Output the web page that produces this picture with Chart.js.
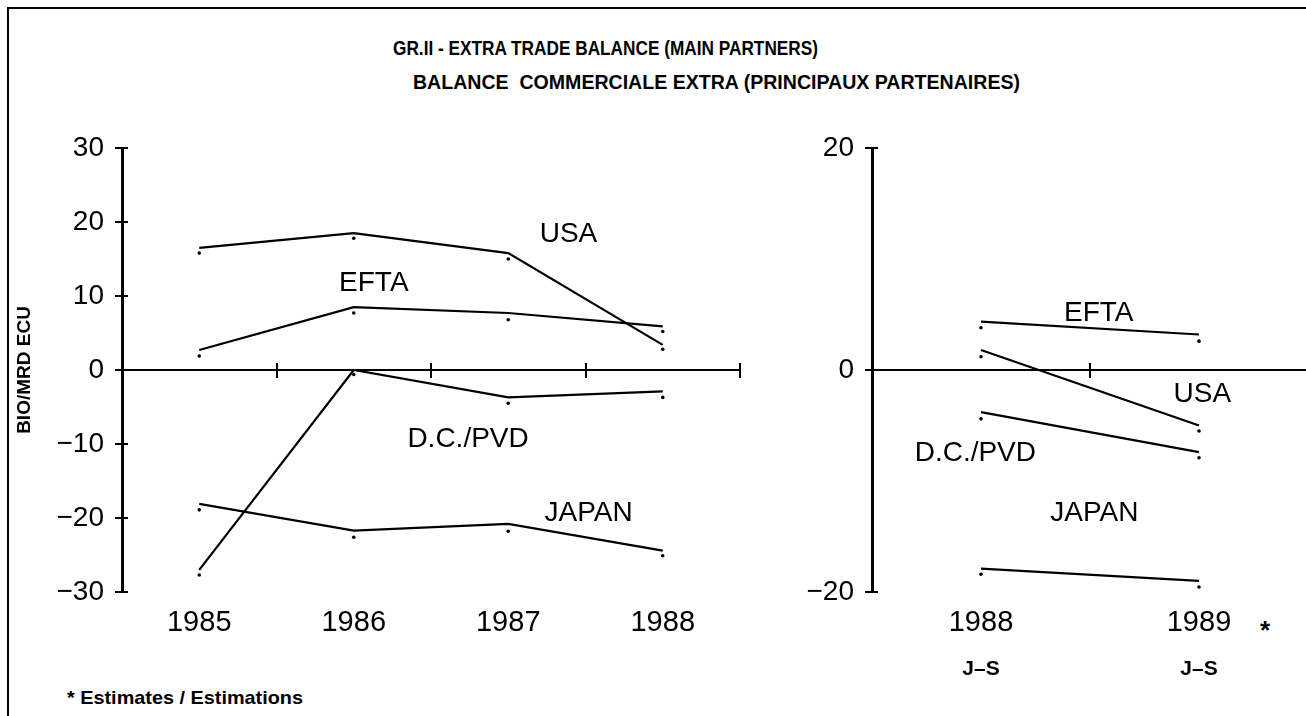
<!DOCTYPE html>
<html>
<head>
<meta charset="utf-8">
<script src="https://cdn.jsdelivr.net/npm/chart.js@4"></script>
<style>
  html, body { margin: 0; padding: 0; background: #fff; overflow: hidden; }
  body { width: 1306px; height: 716px; position: relative; font-family: "Liberation Sans", Arial, sans-serif; color: #000; }
  .rule { position: absolute; background: #000; }
  .txt { position: absolute; white-space: pre; font-weight: bold; line-height: 1; transform-origin: 0 0; }
  #left { position: absolute; left: 0; top: 0; }
  #right { position: absolute; left: 760px; top: 0; }
</style>
</head>
<body>
<div class="rule" style="left:7px; top:7px; width:1300px; height:2px;"></div>
<div class="rule" style="left:7px; top:7px; width:2px; height:710px;"></div>
<div class="txt" id="t1" style="left:393px; top:37px; font-size:21px;">GR.II - EXTRA TRADE BALANCE (MAIN PARTNERS)</div>
<div class="txt" id="t2" style="left:413px; top:71px; font-size:21px;">BALANCE  COMMERCIALE EXTRA (PRINCIPAUX PARTENAIRES)</div>
<div class="txt" id="note" style="left:67px; top:688px; font-size:19px;">* Estimates / Estimations</div>
<div class="txt" id="star" style="left:1260px; top:617px; font-size:26px;">*</div>
<canvas id="left" width="760" height="716"></canvas>
<canvas id="right" width="560" height="716"></canvas>
<script>
// années
const yearsLeft = ['1985', '1986', '1987', '1988'];
const yearsRight = ['1988', '1989'];
const periodRight = ['J\u2013S', 'J\u2013S'];

// Mrd ECU, lignes
const usaLeft = [16.5, 18.5, 15.8, 3.4];
const eftaLeft = [2.7, 8.5, 7.7, 5.9];
const dcLeft = [-27.0, 0.0, -3.7, -2.9];
const japanLeft = [-18.1, -21.7, -20.8, -24.4];

// points imprimés (un peu décalés des lignes)
const usaDotsLeft = [15.8, 17.8, 15.0, 2.8];
const eftaDotsLeft = [1.9, 7.7, 6.8, 5.2];
const dcDotsLeft = [-27.7, -0.6, -4.5, -3.7];
const japanDotsLeft = [-18.9, -22.6, -21.8, -25.1];

const usaRight = [1.8, -5.0];
const eftaRight = [4.35, 3.2];
const dcRight = [-3.8, -7.4];
const japanRight = [-17.9, -19.0];

const usaDotsRight = [1.2, -5.5];
const eftaDotsRight = [3.8, 2.6];
const dcDotsRight = [-4.4, -7.9];
const japanDotsRight = [-18.4, -19.55];

const seriesNames = ['USA', 'EFTA', 'D.C./PVD', 'JAPAN'];
// ancre des noms : [index de catégorie, valeur]
const namesAtLeft = [[2.39, 18.3], [1.13, 11.7], [1.74, -9.3], [2.52, -19.4]];
const namesAtRight = [[1.015, -2.2], [0.54, 5.1], [-0.026, -7.5], [0.52, -12.95]];

const FONT = '"Liberation Sans", Arial, sans-serif';

const seriesText = {
    id: 'seriesText',
    afterDatasetsDraw(chart, args, opts) {
        const ctx = chart.ctx;
        const x = chart.scales.x, y = chart.scales.y;
        ctx.save();
        ctx.font = '28px ' + FONT;
        ctx.fillStyle = '#000';
        ctx.textAlign = 'center';
        ctx.textBaseline = 'middle';
        opts.names.forEach((n, i) => {
            ctx.fillText(n, x.getPixelForValue(opts.at[i][0]), y.getPixelForValue(opts.at[i][1]));
        });
        ctx.restore();
    }
};

function lineSet(data) {
    return { data: data, xAxisID: 'x', yAxisID: 'y', borderColor: '#000', borderWidth: 2.2, pointRadius: 0, tension: 0, fill: false };
}
function dotSet(data) {
    return { data: data, xAxisID: 'x', yAxisID: 'y', showLine: false, pointRadius: 1.8, pointBackgroundColor: '#000', pointBorderWidth: 0 };
}

function fixWidth(w) { return function(s) { s.width = w; }; }
function fixHeight(h) { return function(s) { s.height = h; }; }

function zeroAxis(len) {
    return {
        type: 'category', position: { y: 0 }, offset: true,
        ticks: { display: false },
        border: { display: len > 0, color: '#000', width: 2 },
        grid: { display: true, offset: true, drawOnChartArea: false, drawTicks: true, tickLength: len, color: '#000', lineWidth: 2 }
    };
}

function makeChart(id, labels, sets, yOpts, names, at, padRight, yWidth, withPeriod) {
    const scales = {
        x: {
            type: 'category', position: 'bottom', offset: true, weight: 0,
            grid: { display: false, drawTicks: false },
            border: { display: false },
            ticks: { color: '#000', font: { family: FONT, size: 29 }, padding: 14, maxRotation: 0, autoSkip: false },
            afterFit: fixHeight(withPeriod ? 52 : 124)
        },
        x0: zeroAxis(7),
        x0b: zeroAxis(-7),
        y: {
            type: 'linear', position: 'left',
            min: yOpts.min, max: yOpts.max,
            ticks: {
                stepSize: yOpts.step, color: '#000', padding: 11,
                font: { family: FONT, size: 28 },
                callback: v => (v < 0 ? '\u2212' + Math.abs(v) : String(v))
            },
            grid: { drawOnChartArea: false, drawTicks: true, tickLength: 7, color: '#000', lineWidth: 2 },
            border: { display: true, color: '#000', width: 3 },
            title: yOpts.title ? {
                display: true, text: yOpts.title, color: '#000',
                font: { family: FONT, size: 19, weight: 'bold' }, padding: { top: 13 }
            } : { display: false },
            afterFit: fixWidth(yWidth)
        },
        // petites coches vers l'intérieur, sur l'axe vertical
        yIn: {
            type: 'linear', position: { x: -0.5 },
            min: yOpts.min, max: yOpts.max,
            ticks: { display: false, stepSize: yOpts.step },
            grid: { drawOnChartArea: false, drawTicks: true, tickLength: -6, color: '#000', lineWidth: 2 },
            border: { display: false }
        }
    };
    if (withPeriod) {
        scales.x2 = {
            type: 'category', position: 'bottom', offset: true, weight: 1,
            labels: periodRight,
            grid: { display: false, drawTicks: false },
            border: { display: false },
            ticks: { color: '#000', font: { family: FONT, size: 21, weight: 'bold' }, padding: 13, maxRotation: 0 },
            afterFit: fixHeight(72)
        };
    }
    return new Chart(document.getElementById(id), {
        type: 'line',
        data: { labels: labels, datasets: sets },
        options: {
            responsive: false,
            animation: false,
            layout: { padding: { top: 148, right: padRight, left: 0, bottom: 0 } },
            plugins: { legend: { display: false }, tooltip: { enabled: false }, seriesText: { names: names, at: at } },
            scales: scales
        },
        plugins: [seriesText]
    });
}

makeChart('left', yearsLeft,
    [lineSet(usaLeft), lineSet(eftaLeft), lineSet(dcLeft), lineSet(japanLeft),
     dotSet(usaDotsLeft), dotSet(eftaDotsLeft), dotSet(dcDotsLeft), dotSet(japanDotsLeft)],
    { min: -30, max: 30, step: 10, title: 'BIO/MRD ECU' },
    seriesNames, namesAtLeft, 20, 122, false);

makeChart('right', yearsRight,
    [lineSet(usaRight), lineSet(eftaRight), lineSet(dcRight), lineSet(japanRight),
     dotSet(usaDotsRight), dotSet(eftaDotsRight), dotSet(dcDotsRight), dotSet(japanDotsRight)],
    { min: -20, max: 20, step: 20, title: null },
    seriesNames, namesAtRight, 12, 112, true);

// titres resserrés comme l'original
function squeeze(id, w) {
    const el = document.getElementById(id);
    const r = el.getBoundingClientRect().width;
    el.style.transform = 'scaleX(' + (w / r) + ')';
}
squeeze('t1', 425);
squeeze('t2', 607);
squeeze('note', 236);
</script>
</body>
</html>
